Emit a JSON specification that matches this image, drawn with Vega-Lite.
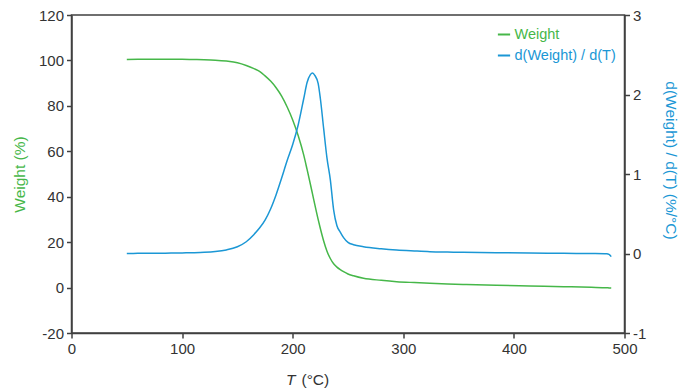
{
  "$schema": "https://vega.github.io/schema/vega-lite/v6.json",
  "width": 553,
  "height": 318,
  "autosize": "none",
  "padding": {"left": 71.5, "top": 15, "right": 67.5, "bottom": 57},
  "background": "white",
  "config": {
    "font": "Liberation Sans",
    "view": {"stroke": "#404040", "strokeWidth": 1.5},
    "axis": {
      "grid": false,
      "domainColor": "#404040",
      "domainWidth": 1.5,
      "tickColor": "#404040",
      "tickWidth": 1.5,
      "tickSize": 5,
      "labelFontSize": 15,
      "labelColor": "#333333",
      "labelPadding": 3,
      "labelFlush": false,
      "labelExpr": "replace(datum.label, '−', '-')",
      "titleFontSize": 15.5,
      "titleFontWeight": "normal",
      "titleColor": "#333333"
    }
  },
  "data": {
    "values": [
      {"T": 50, "W": 100.4, "D": 0.000},
      {"T": 60, "W": 100.5, "D": 0.002},
      {"T": 70, "W": 100.5, "D": 0.003},
      {"T": 80, "W": 100.5, "D": 0.004},
      {"T": 90, "W": 100.5, "D": 0.005},
      {"T": 100, "W": 100.5, "D": 0.007},
      {"T": 110, "W": 100.4, "D": 0.010},
      {"T": 120, "W": 100.3, "D": 0.015},
      {"T": 130, "W": 100.1, "D": 0.025},
      {"T": 140, "W": 99.7, "D": 0.045},
      {"T": 150, "W": 99.0, "D": 0.085},
      {"T": 158, "W": 97.8, "D": 0.148},
      {"T": 165, "W": 96.4, "D": 0.24},
      {"T": 170, "W": 95.2, "D": 0.32},
      {"T": 175, "W": 93.2, "D": 0.42},
      {"T": 180, "W": 90.9, "D": 0.56},
      {"T": 185, "W": 88.0, "D": 0.74},
      {"T": 190, "W": 84.3, "D": 0.95},
      {"T": 195, "W": 79.5, "D": 1.17},
      {"T": 200, "W": 73.8, "D": 1.37},
      {"T": 205, "W": 66.8, "D": 1.62},
      {"T": 210, "W": 58.3, "D": 1.95},
      {"T": 213, "W": 52.0, "D": 2.15},
      {"T": 216, "W": 45.5, "D": 2.25},
      {"T": 218, "W": 41.0, "D": 2.27},
      {"T": 220, "W": 36.5, "D": 2.24},
      {"T": 223, "W": 30.0, "D": 2.14},
      {"T": 225, "W": 26.0, "D": 1.95},
      {"T": 228, "W": 20.5, "D": 1.57},
      {"T": 231, "W": 16.0, "D": 1.20},
      {"T": 234, "W": 12.8, "D": 0.93},
      {"T": 237, "W": 10.5, "D": 0.55},
      {"T": 240, "W": 9.0, "D": 0.35},
      {"T": 243, "W": 7.9, "D": 0.27},
      {"T": 246, "W": 7.0, "D": 0.20},
      {"T": 250, "W": 6.0, "D": 0.14},
      {"T": 255, "W": 5.2, "D": 0.11},
      {"T": 264, "W": 4.1, "D": 0.085},
      {"T": 280, "W": 3.2, "D": 0.06},
      {"T": 294, "W": 2.6, "D": 0.044},
      {"T": 310, "W": 2.2, "D": 0.032},
      {"T": 324, "W": 1.9, "D": 0.023},
      {"T": 340, "W": 1.6, "D": 0.018},
      {"T": 354, "W": 1.4, "D": 0.015},
      {"T": 384, "W": 1.0, "D": 0.010},
      {"T": 414, "W": 0.7, "D": 0.006},
      {"T": 445, "W": 0.4, "D": 0.0025},
      {"T": 470, "W": 0.1, "D": 0.0},
      {"T": 484, "W": -0.1, "D": -0.003},
      {"T": 486, "W": -0.15, "D": -0.01},
      {"T": 488, "W": -0.2, "D": -0.04}
    ]
  },
  "layer": [
    {
      "mark": {"type": "line", "strokeWidth": 1.5, "clip": true, "interpolate": "monotone"},
      "encoding": {
        "x": {
          "field": "T", "type": "quantitative",
          "scale": {"domain": [0, 500], "nice": false},
          "axis": {
            "orient": "bottom",
            "values": [0, 100, 200, 300, 400, 500],
            "title": "(°C)",
            "titleAlign": "left",
            "titleAnchor": null,
            "titleX": 229.5,
            "titleY": 51,
            "titleBaseline": "alphabetic"
          }
        },
        "y": {
          "field": "W", "type": "quantitative",
          "scale": {"domain": [-20, 120], "nice": false, "zero": false},
          "axis": {
            "orient": "left",
            "values": [-20, 0, 20, 40, 60, 80, 100, 120],
            "title": "Weight (%)",
            "titleColor": "#46b749",
            "titleAngle": -90,
            "titleX": -52,
            "titleY": 159,
            "titleAlign": "center",
            "titleBaseline": "middle"
          }
        },
        "color": {
          "datum": "Weight",
          "type": "nominal",
          "scale": {"domain": ["Weight", "d(Weight) / d(T)"], "range": ["#46b749", "#1b97d5"]},
          "legend": {
            "orient": "none",
            "legendX": 425,
            "legendY": 12,
            "title": null,
            "symbolType": "stroke",
            "symbolStrokeWidth": 2,
            "symbolSize": 150,
            "labelFontSize": 14.5,
            "labelOffset": 3,
            "rowPadding": 6,
            "encode": {
              "labels": {
                "update": {
                  "fill": {"signal": "datum.label == 'Weight' ? '#46b749' : '#1b97d5'"}
                }
              }
            }
          }
        }
      }
    },
    {
      "mark": {"type": "line", "strokeWidth": 1.5, "clip": true, "interpolate": "monotone"},
      "encoding": {
        "x": {
          "field": "T", "type": "quantitative",
          "scale": {"domain": [0, 500], "nice": false},
          "axis": {
            "orient": "bottom",
            "labels": false,
            "ticks": false,
            "domain": false,
            "title": "T",
            "titleFontStyle": "italic",
            "titleAlign": "left",
            "titleAnchor": null,
            "titleX": 214,
            "titleY": 51,
            "titleBaseline": "alphabetic"
          }
        },
        "y": {
          "field": "D", "type": "quantitative",
          "scale": {"domain": [-1, 3], "nice": false, "zero": false},
          "axis": {
            "orient": "right",
            "values": [-1, 0, 1, 2, 3],
            "title": "d(Weight) / d(T) (%/°C)",
            "titleColor": "#1b97d5",
            "titleAngle": 90,
            "titleX": 46,
            "titleY": 145,
            "titleAlign": "center",
            "titleBaseline": "middle"
          }
        },
        "color": {"datum": "d(Weight) / d(T)", "type": "nominal"}
      }
    }
  ],
  "resolve": {"scale": {"y": "independent", "x": "independent"}, "axis": {"x": "independent", "y": "independent"}}
}
